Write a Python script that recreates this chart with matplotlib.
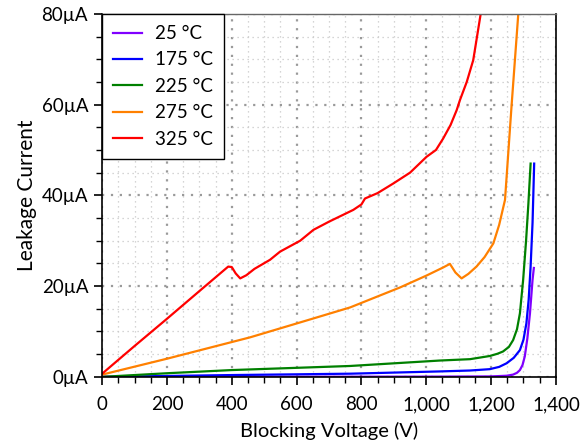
import numpy as np
import matplotlib.pyplot as plt
from matplotlib.ticker import MultipleLocator, FuncFormatter

plt.rcParams["font.family"] = ["Lato", "DejaVu Sans"]

# leakage current (uA) vs blocking voltage (V)
v_25 = [0, 1000, 1200, 1248, 1268, 1280, 1289, 1297, 1304, 1312, 1320, 1328, 1332]
i_25 = [0, 0.05, 0.1, 0.25, 0.5, 0.9, 1.5, 2.6, 4.5, 8.5, 14, 21.4, 24]

v_175 = [0, 400, 765, 1042, 1135, 1196, 1225, 1248, 1270, 1289, 1300, 1309, 1316, 1322, 1328, 1333]
i_175 = [0, 0.4, 0.7, 1.2, 1.4, 1.7, 2.2, 3.0, 4.2, 5.9, 8.2, 11.8, 17, 24.3, 34, 47]

v_225 = [0, 200, 400, 765, 1042, 1135, 1196, 1220, 1237, 1255, 1268, 1280, 1289, 1299, 1308, 1315, 1322]
i_225 = [0, 0.8, 1.5, 2.4, 3.6, 3.9, 4.6, 5.1, 5.6, 6.6, 8.1, 10.5, 14, 21.4, 30, 38, 47]

v_275 = [0, 200, 456, 611, 765, 919, 1000, 1052, 1073, 1090, 1109, 1130, 1155, 1180,
         1207, 1225, 1243, 1263, 1284, 1290]
i_275 = [0.5, 4.0, 8.7, 12.0, 15.3, 19.7, 22.3, 24.1, 24.9, 23.0, 21.7, 22.7, 24.3, 26.4,
         29.4, 33.5, 39, 59.5, 80, 85]

v_325 = [0, 100, 200, 300, 389, 400, 412, 426, 445, 470, 518, 549, 611, 652, 700, 775, 800,
         811, 850, 898, 950, 1001, 1030, 1052, 1075, 1094, 1104, 1125, 1145, 1168, 1175]
i_325 = [0.7, 6.8, 12.8, 18.9, 24.3, 24.2, 22.8, 21.7, 22.4, 23.8, 25.8, 27.6, 30.0, 32.4, 34.2,
         36.8, 38.0, 39.3, 40.5, 42.6, 45.0, 48.5, 50.0, 52.5, 55.5, 58.8, 61.0, 65.0, 69.8, 80, 84]

labels = ['25 °C', '175 °C', '225 °C', '275 °C', '325 °C']
colors = ['#8000ff', '#0000ff', '#008000', '#ff8000', '#ff0000']

fig = plt.figure(figsize=(5.87, 4.46), dpi=100)
ax = fig.add_axes([0.174, 0.155, 0.773, 0.814])

series = [(v_25, i_25), (v_175, i_175), (v_225, i_225), (v_275, i_275), (v_325, i_325)]
for (v, i), lab, c in zip(series, labels, colors):
    ax.plot(v, i, color=c, lw=1.6, label=lab, solid_joinstyle='round')

ax.set_xlim(0, 1400)
ax.set_ylim(0, 80)
ax.xaxis.set_major_locator(MultipleLocator(200))
ax.xaxis.set_minor_locator(MultipleLocator(50))
ax.yaxis.set_major_locator(MultipleLocator(20))
ax.yaxis.set_minor_locator(MultipleLocator(5))
ax.xaxis.set_major_formatter(FuncFormatter(lambda x, p: '{:,.0f}'.format(x)))
ax.yaxis.set_major_formatter(FuncFormatter(lambda y, p: '%dµA' % y))

ax.grid(which='major', color='#9a9a9a', ls=(0, (1, 3)), lw=1.6)
ax.grid(which='minor', color='#c8c8c8', ls=(0, (1, 3)), lw=0.9)
ax.set_axisbelow(True)

ax.tick_params(which='major', direction='out', length=6, width=1.2, labelsize=13.5,
               colors='black', pad=4)
ax.tick_params(axis='x', which='major', pad=8)
ax.tick_params(which='minor', direction='out', length=4, width=1.0)
for s in ['left', 'bottom', 'right']:
    ax.spines[s].set_color('black')
    ax.spines[s].set_linewidth(1.2)
ax.spines['top'].set_color('#666666')
ax.spines['top'].set_linewidth(1.0)

ax.set_xlabel('Blocking Voltage (V)', fontsize=14.5, labelpad=6)
ax.set_ylabel('Leakage Current', fontsize=15, labelpad=3)

leg = ax.legend(loc='upper left', fontsize=13.5, frameon=True, fancybox=False,
                borderaxespad=0, handlelength=1.5, handletextpad=0.7,
                labelspacing=0.5, borderpad=0.6)
leg.get_frame().set_edgecolor('black')
leg.get_frame().set_linewidth(1.0)
leg.get_frame().set_alpha(1)

fig.savefig('out.png', dpi=100)
